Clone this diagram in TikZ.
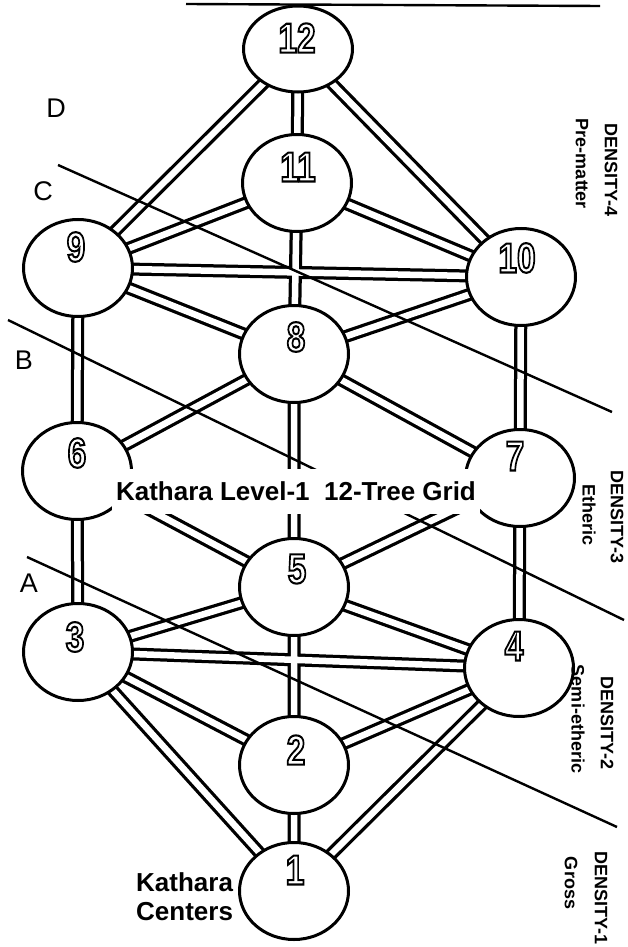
\documentclass[tikz,border=0pt]{standalone}
\usepackage{fontspec}
\setmainfont{Liberation Sans}
\usetikzlibrary{shapes.geometric,backgrounds}

% digits drawn as outlines only (stroke rendering mode)
\newcommand{\hollow}[1]{\scalebox{0.8}[1]{\special{pdf:literal direct 1 Tr 2.1 w}#1\special{pdf:literal direct 0 Tr}}}

\begin{document}
\begin{tikzpicture}[x=1pt,y=-1pt,
  knot/.style={ellipse, draw, line width=3pt, fill=white, minimum width=109pt, minimum height=97pt, inner sep=0pt},
  numeral/.style={inner sep=0pt, font=\fontsize{42}{42}\selectfont\bfseries},
  tube/.style={double=white, double distance=6.5pt, line width=3.25pt},
  divider/.style={line width=2.4pt},
  caption/.style={font=\fontsize{26}{29}\selectfont\bfseries, inner sep=0pt},
  density/.style={rotate=-90, font=\fontsize{18}{18}\selectfont\bfseries, inner sep=0pt},
  letter/.style={font=\fontsize{27}{27}\selectfont, inner sep=0pt}]
\useasboundingbox (0,0) rectangle (628,947);

% the twelve centres
\node[knot, minimum height=86pt] (k12) at (298,49) {};
\node[knot] (k11) at (297,183) {};
\node[knot] (k9) at (78,268) {};
\node[knot] (k10) at (521,277) {};
\node[knot] (k8) at (294,354) {};
\node[knot] (k6) at (77,471) {};
\node[knot] (k7) at (520,478) {};
\node[knot] (k5) at (294,587) {};
\node[knot] (k3) at (78,652) {};
\node[knot] (k4) at (519,668) {};
\node[knot] (k2) at (294,765) {};
\node[knot] (k1) at (294,891) {};

\node[numeral] (n12) at (297,38) {\hollow{12}};
\node[numeral] (n11) at (298,167) {\hollow{11}};
\node[numeral] (n9) at (76,247) {\hollow{9}};
\node[numeral] (n10) at (517,258) {\hollow{10}};
\node[numeral] (n8) at (296,337) {\hollow{8}};
\node[numeral] (n6) at (77,453) {\hollow{6}};
\node[numeral] (n7) at (515,456) {\hollow{7}};
\node[numeral] (n5) at (297,569) {\hollow{5}};
\node[numeral] (n3) at (75,637) {\hollow{3}};
\node[numeral] (n4) at (514,646) {\hollow{4}};
\node[numeral] (n2) at (296,750) {\hollow{2}};
\node[numeral] (n1) at (295,870) {\hollow{1}};

% double channels, one path so crossings merge
\begin{scope}[on background layer]
\fill[white] (0,0) rectangle (628,947);
\draw[tube] (k12.center) -- (k11.center) (k12.center) -- (k9.center) (k12.center) -- (k10.center)
  (k11.center) -- (k9.center) (k11.center) -- (k10.center) (k11.center) -- (k8.center)
  (k9.center) -- (k10.center) (k9.center) -- (k8.center) (k10.center) -- (k8.center)
  (k9.center) -- (k6.center) (k10.center) -- (k7.center)
  (k8.center) -- (k6.center) (k8.center) -- (k7.center) (k8.center) -- (k5.center)
  (k6.center) -- (k5.center) (k7.center) -- (k5.center)
  (k6.center) -- (k3.center) (k7.center) -- (k4.center)
  (k5.center) -- (k3.center) (k5.center) -- (k4.center) (k5.center) -- (k2.center)
  (k3.center) -- (k4.center) (k3.center) -- (k2.center) (k4.center) -- (k2.center)
  (k3.center) -- (k1.center) (k4.center) -- (k1.center) (k2.center) -- (k1.center);
\end{scope}

% dividing lines
\coordinate (top0) at (186,4);
\coordinate (top1) at (600,6);
\coordinate (c0) at (58,165);
\coordinate (c1) at (612,412);
\coordinate (b0) at (8,320);
\coordinate (b1) at (624,620);
\coordinate (a0) at (27,557);
\coordinate (a1) at (617,827);
\draw[divider] (top0) -- (top1);
\draw[divider] (c0) -- (c1);
\draw[divider] (b0) -- (b1);
\draw[divider] (a0) -- (a1);

\node[letter] (ld) at (56,108) {D};
\node[letter] (lc) at (43,191) {C};
\node[letter] (lb) at (24,360) {B};
\node[letter] (la) at (29,583) {A};

% densities
\node[density] (d4) at (611,170) {DENSITY-4};
\node[density] (p4) at (582,164) {Pre-matter};
\node[density] (d3) at (617,517) {DENSITY-3};
\node[density] (p3) at (589,515) {Etheric};
\node[density] (d2) at (607,723) {DENSITY-2};
\node[density] (p2) at (578,719) {Semi-etheric};
\node[density] (d1) at (601,898) {DENSITY-1};
\node[density] (p1) at (571,883) {Gross};

\node[caption, align=left, anchor=west] (centers) at (136,897) {Kathara\\Centers};
\node[caption, fill=white, inner xsep=4pt, minimum height=45pt] (title) at (296,491) {Kathara Level-1\ \ 12-Tree Grid};
\end{tikzpicture}
\end{document}
